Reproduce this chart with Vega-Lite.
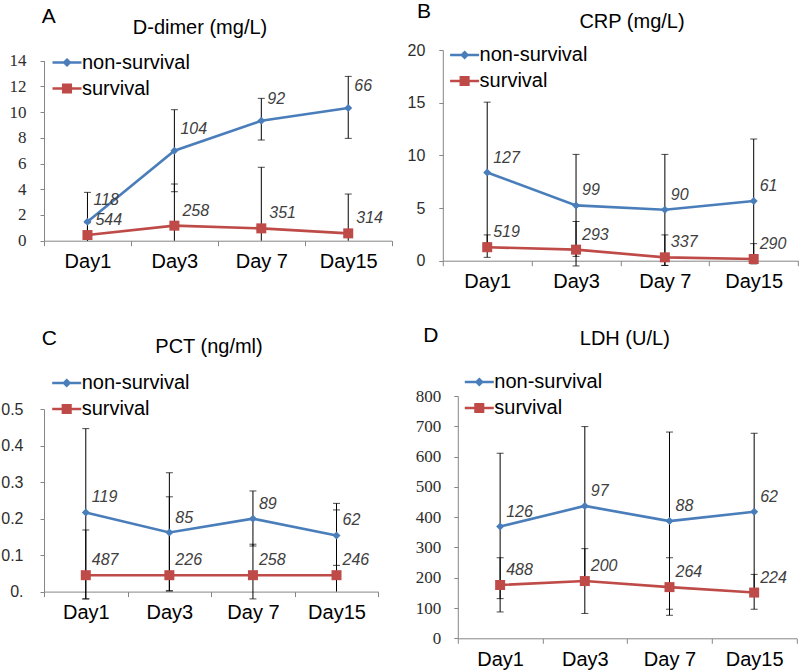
{
  "$schema": "https://vega.github.io/schema/vega-lite/v6.json",
  "background": "white",
  "padding": 0,
  "autosize": {"type": "pad"},
  "columns": 2,
  "bounds": "flush",
  "spacing": {"row": 135, "column": 50.8},
  "resolve": {"scale": {"color": "independent"}, "legend": {"color": "independent"}},
  "datasets": {
    "dimer": [
      {"group": "non-survival", "day": "Day1", "value": 1.48, "lo": 0, "hi": 3.76, "n": 118},
      {"group": "non-survival", "day": "Day3", "value": 7.0, "lo": 3.81, "hi": 10.19, "n": 104},
      {"group": "non-survival", "day": "Day 7", "value": 9.33, "lo": 7.83, "hi": 11.07, "n": 92},
      {"group": "non-survival", "day": "Day15", "value": 10.32, "lo": 7.96, "hi": 12.78, "n": 66},
      {"group": "survival", "day": "Day1", "value": 0.44, "lo": 0, "hi": 1.4, "n": 544},
      {"group": "survival", "day": "Day3", "value": 1.17, "lo": 0, "hi": 4.41, "n": 258},
      {"group": "survival", "day": "Day 7", "value": 0.96, "lo": 0, "hi": 5.71, "n": 351},
      {"group": "survival", "day": "Day15", "value": 0.57, "lo": 0, "hi": 3.63, "n": 314}
    ],
    "crp": [
      {"group": "non-survival", "day": "Day1", "value": 8.37, "lo": 1.69, "hi": 15.05, "n": 127},
      {"group": "non-survival", "day": "Day3", "value": 5.25, "lo": 0.41, "hi": 10.09, "n": 99},
      {"group": "non-survival", "day": "Day 7", "value": 4.84, "lo": -0.45, "hi": 10.09, "n": 90},
      {"group": "non-survival", "day": "Day15", "value": 5.67, "lo": -0.21, "hi": 11.55, "n": 61},
      {"group": "survival", "day": "Day1", "value": 1.28, "lo": 0.32, "hi": 2.45, "n": 519},
      {"group": "survival", "day": "Day3", "value": 1.05, "lo": -0.5, "hi": 3.72, "n": 293},
      {"group": "survival", "day": "Day 7", "value": 0.32, "lo": -0.45, "hi": 2.45, "n": 337},
      {"group": "survival", "day": "Day15", "value": 0.16, "lo": -0.3, "hi": 1.62, "n": 290}
    ],
    "pct": [
      {"group": "non-survival", "day": "Day1", "value": 0.217, "lo": -0.02, "hi": 0.447, "n": 119},
      {"group": "non-survival", "day": "Day3", "value": 0.162, "lo": 0.002, "hi": 0.326, "n": 85},
      {"group": "non-survival", "day": "Day 7", "value": 0.2, "lo": 0.125, "hi": 0.276, "n": 89},
      {"group": "non-survival", "day": "Day15", "value": 0.154, "lo": 0.072, "hi": 0.242, "n": 62},
      {"group": "survival", "day": "Day1", "value": 0.045, "lo": -0.02, "hi": 0.169, "n": 487},
      {"group": "survival", "day": "Day3", "value": 0.045, "lo": 0.002, "hi": 0.26, "n": 226},
      {"group": "survival", "day": "Day 7", "value": 0.045, "lo": -0.02, "hi": 0.13, "n": 258},
      {"group": "survival", "day": "Day15", "value": 0.045, "lo": 0, "hi": 0.224, "n": 246}
    ],
    "ldh": [
      {"group": "non-survival", "day": "Day1", "value": 369, "lo": 131, "hi": 611, "n": 126},
      {"group": "non-survival", "day": "Day3", "value": 437, "lo": 175, "hi": 699, "n": 97},
      {"group": "non-survival", "day": "Day 7", "value": 387, "lo": 96, "hi": 681, "n": 88},
      {"group": "non-survival", "day": "Day15", "value": 418, "lo": 159, "hi": 677, "n": 62},
      {"group": "survival", "day": "Day1", "value": 176, "lo": 87, "hi": 266, "n": 488},
      {"group": "survival", "day": "Day3", "value": 189, "lo": 82, "hi": 296, "n": 200},
      {"group": "survival", "day": "Day 7", "value": 169, "lo": 76, "hi": 266, "n": 264},
      {"group": "survival", "day": "Day15", "value": 151, "lo": 96, "hi": 211, "n": 224}
    ]
  },
  "concat": [
    {
      "width": 347.7, "height": 190.7,
      "data": {"name": "dimer"},
      "encoding": {
        "x": {"field": "day", "type": "ordinal", "sort": ["Day1", "Day3", "Day 7", "Day15"],
          "scale": {"type": "band", "paddingInner": 0, "paddingOuter": 0},
          "axis": {"title": "A", "titleX": -2.8, "titleY": -218.4, "tickBand": "extent"}}
      },
      "layer": [
        {"mark": {"type": "rule", "color": "#000", "strokeWidth": 1},
          "encoding": {"y": {"field": "lo", "type": "quantitative", "scale": {"domain": [0, 14], "range": [190.7, 10.7], "nice": false},
            "axis": {"title": "D-dimer (mg/L)", "titleX": 155.5, "titleY": -16.5, "values": [0, 2, 4, 6, 8, 10, 12, 14], "labelFont": "Liberation Serif", "labelFontSize": 17, "labelPadding": 14}}, "y2": {"field": "hi"}}},
        {"mark": {"type": "tick", "orient": "horizontal", "size": 7, "thickness": 1, "color": "#000"},
          "encoding": {"y": {"field": "hi", "type": "quantitative", "scale": {"domain": [0, 14], "range": [190.7, 10.7], "nice": false},
            "axis": {"title": "D-dimer (mg/L)", "titleX": 155.5, "titleY": -16.5, "values": [0, 2, 4, 6, 8, 10, 12, 14], "labelFont": "Liberation Serif", "labelFontSize": 17, "labelPadding": 14}}}},
        {"transform": [{"filter": "datum.lo != 0"}], "mark": {"type": "tick", "orient": "horizontal", "size": 7, "thickness": 1, "color": "#000"},
          "encoding": {"y": {"field": "lo", "type": "quantitative", "scale": {"domain": [0, 14], "range": [190.7, 10.7], "nice": false},
            "axis": {"title": "D-dimer (mg/L)", "titleX": 155.5, "titleY": -16.5, "values": [0, 2, 4, 6, 8, 10, 12, 14], "labelFont": "Liberation Serif", "labelFontSize": 17, "labelPadding": 14}}}},
        {"mark": {"type": "line", "strokeWidth": 2.6},
          "encoding": {
            "y": {"field": "value", "type": "quantitative", "scale": {"domain": [0, 14], "range": [190.7, 10.7], "nice": false},
              "axis": {"title": "D-dimer (mg/L)", "titleX": 155.5, "titleY": -16.5, "values": [0, 2, 4, 6, 8, 10, 12, 14], "labelFont": "Liberation Serif", "labelFontSize": 17, "labelPadding": 14}},
            "color": {"field": "group", "type": "nominal", "scale": {"domain": ["non-survival", "survival"], "range": ["#4a7ebb", "#be4b48"]},
              "legend": {"title": null, "orient": "none", "legendX": 11.5, "legendY": 1,
                "encode": {"symbols": {"update": {
                  "shape": {"signal": "datum.value === 'non-survival' ? 'M-1.45,0H1.45M0,-0.28L0.28,0L0,0.28L-0.28,0Z' : 'M-1.45,0H1.45M-0.38,-0.38H0.38V0.38H-0.38Z'"},
                  "fill": {"signal": "datum.value === 'non-survival' ? '#4a7ebb' : '#be4b48'"},
                  "stroke": {"signal": "datum.value === 'non-survival' ? '#4a7ebb' : '#be4b48'"},
                  "strokeWidth": {"value": 2.5}, "opacity": {"value": 1}}}}}}
          }},
        {"transform": [{"filter": "datum.group === 'non-survival'"}], "mark": {"type": "point", "filled": true, "opacity": 1, "shape": "diamond", "size": 64, "color": "#4a7ebb"},
          "encoding": {"y": {"field": "value", "type": "quantitative", "scale": {"domain": [0, 14], "range": [190.7, 10.7], "nice": false},
            "axis": {"title": "D-dimer (mg/L)", "titleX": 155.5, "titleY": -16.5, "values": [0, 2, 4, 6, 8, 10, 12, 14], "labelFont": "Liberation Serif", "labelFontSize": 17, "labelPadding": 14}}}},
        {"transform": [{"filter": "datum.group === 'survival'"}], "mark": {"type": "point", "filled": true, "opacity": 1, "shape": "square", "size": 100, "color": "#be4b48"},
          "encoding": {"y": {"field": "value", "type": "quantitative", "scale": {"domain": [0, 14], "range": [190.7, 10.7], "nice": false},
            "axis": {"title": "D-dimer (mg/L)", "titleX": 155.5, "titleY": -16.5, "values": [0, 2, 4, 6, 8, 10, 12, 14], "labelFont": "Liberation Serif", "labelFontSize": 17, "labelPadding": 14}}}},
        {"transform": [{"filter": "datum.group === 'non-survival'"}], "mark": {"type": "text", "align": "left", "baseline": "middle", "dx": 6, "dy": -22, "fontStyle": "italic", "fontSize": 16, "color": "#404040"},
          "encoding": {"y": {"field": "value", "type": "quantitative", "scale": {"domain": [0, 14], "range": [190.7, 10.7], "nice": false},
            "axis": {"title": "D-dimer (mg/L)", "titleX": 155.5, "titleY": -16.5, "values": [0, 2, 4, 6, 8, 10, 12, 14], "labelFont": "Liberation Serif", "labelFontSize": 17, "labelPadding": 14}}, "text": {"field": "n", "type": "nominal"}}},
        {"transform": [{"filter": "datum.group === 'survival'"}], "mark": {"type": "text", "align": "left", "baseline": "middle", "dx": 8, "dy": -15, "fontStyle": "italic", "fontSize": 16, "color": "#404040"},
          "encoding": {"y": {"field": "value", "type": "quantitative", "scale": {"domain": [0, 14], "range": [190.7, 10.7], "nice": false},
            "axis": {"title": "D-dimer (mg/L)", "titleX": 155.5, "titleY": -16.5, "values": [0, 2, 4, 6, 8, 10, 12, 14], "labelFont": "Liberation Serif", "labelFontSize": 17, "labelPadding": 14}}, "text": {"field": "n", "type": "nominal"}}}
      ]
    },
    {
      "width": 355.3, "height": 210.7,
      "data": {"name": "crp"},
      "encoding": {
        "x": {"field": "day", "type": "ordinal", "sort": ["Day1", "Day3", "Day 7", "Day15"],
          "scale": {"type": "band", "paddingInner": 0, "paddingOuter": 0},
          "axis": {"title": "B", "titleX": -26.3, "titleY": -243.4, "tickBand": "extent"}}
      },
      "layer": [
        {"mark": {"type": "rule", "color": "#000", "strokeWidth": 1},
          "encoding": {"y": {"field": "lo", "type": "quantitative", "scale": {"domain": [0, 20], "nice": false},
            "axis": {"title": "CRP (mg/L)", "titleX": 188.7, "titleY": -22.7, "values": [0, 5, 10, 15, 20], "labelFontSize": 16, "labelPadding": 14}}, "y2": {"field": "hi"}}},
        {"mark": {"type": "tick", "orient": "horizontal", "size": 7, "thickness": 1, "color": "#000"},
          "encoding": {"y": {"field": "hi", "type": "quantitative", "scale": {"domain": [0, 20], "nice": false},
            "axis": {"title": "CRP (mg/L)", "titleX": 188.7, "titleY": -22.7, "values": [0, 5, 10, 15, 20], "labelFontSize": 16, "labelPadding": 14}}}},
        {"transform": [{"filter": "datum.lo != 0"}], "mark": {"type": "tick", "orient": "horizontal", "size": 7, "thickness": 1, "color": "#000"},
          "encoding": {"y": {"field": "lo", "type": "quantitative", "scale": {"domain": [0, 20], "nice": false},
            "axis": {"title": "CRP (mg/L)", "titleX": 188.7, "titleY": -22.7, "values": [0, 5, 10, 15, 20], "labelFontSize": 16, "labelPadding": 14}}}},
        {"mark": {"type": "line", "strokeWidth": 2.6},
          "encoding": {
            "y": {"field": "value", "type": "quantitative", "scale": {"domain": [0, 20], "nice": false},
              "axis": {"title": "CRP (mg/L)", "titleX": 188.7, "titleY": -22.7, "values": [0, 5, 10, 15, 20], "labelFontSize": 16, "labelPadding": 14}},
            "color": {"field": "group", "type": "nominal", "scale": {"domain": ["non-survival", "survival"], "range": ["#4a7ebb", "#be4b48"]},
              "legend": {"title": null, "orient": "none", "legendX": 10.3, "legendY": -6.5,
                "encode": {"symbols": {"update": {
                  "shape": {"signal": "datum.value === 'non-survival' ? 'M-1.45,0H1.45M0,-0.28L0.28,0L0,0.28L-0.28,0Z' : 'M-1.45,0H1.45M-0.38,-0.38H0.38V0.38H-0.38Z'"},
                  "fill": {"signal": "datum.value === 'non-survival' ? '#4a7ebb' : '#be4b48'"},
                  "stroke": {"signal": "datum.value === 'non-survival' ? '#4a7ebb' : '#be4b48'"},
                  "strokeWidth": {"value": 2.5}, "opacity": {"value": 1}}}}}}
          }},
        {"transform": [{"filter": "datum.group === 'non-survival'"}], "mark": {"type": "point", "filled": true, "opacity": 1, "shape": "diamond", "size": 64, "color": "#4a7ebb"},
          "encoding": {"y": {"field": "value", "type": "quantitative", "scale": {"domain": [0, 20], "nice": false},
            "axis": {"title": "CRP (mg/L)", "titleX": 188.7, "titleY": -22.7, "values": [0, 5, 10, 15, 20], "labelFontSize": 16, "labelPadding": 14}}}},
        {"transform": [{"filter": "datum.group === 'survival'"}], "mark": {"type": "point", "filled": true, "opacity": 1, "shape": "square", "size": 100, "color": "#be4b48"},
          "encoding": {"y": {"field": "value", "type": "quantitative", "scale": {"domain": [0, 20], "nice": false},
            "axis": {"title": "CRP (mg/L)", "titleX": 188.7, "titleY": -22.7, "values": [0, 5, 10, 15, 20], "labelFontSize": 16, "labelPadding": 14}}}},
        {"mark": {"type": "text", "align": "left", "baseline": "middle", "dx": 6, "dy": -15, "fontStyle": "italic", "fontSize": 16, "color": "#404040"},
          "encoding": {"y": {"field": "value", "type": "quantitative", "scale": {"domain": [0, 20], "nice": false},
            "axis": {"title": "CRP (mg/L)", "titleX": 188.7, "titleY": -22.7, "values": [0, 5, 10, 15, 20], "labelFontSize": 16, "labelPadding": 14}}, "text": {"field": "n", "type": "nominal"}}}
      ]
    },
    {
      "width": 334.3, "height": 195.6,
      "data": {"name": "pct"},
      "encoding": {
        "x": {"field": "day", "type": "ordinal", "sort": ["Day1", "Day3", "Day 7", "Day15"],
          "scale": {"type": "band", "paddingInner": 0, "paddingOuter": 0},
          "axis": {"title": "C", "titleX": -2.8, "titleY": -247.3, "tickBand": "extent"}}
      },
      "layer": [
        {"mark": {"type": "rule", "color": "#000", "strokeWidth": 1},
          "encoding": {"y": {"field": "lo", "type": "quantitative", "scale": {"domain": [0, 0.5], "range": [195.6, 13.3], "nice": false},
            "axis": {"title": "PCT (ng/ml)", "titleX": 164.5, "titleY": -43.4, "values": [0, 0.1, 0.2, 0.3, 0.4, 0.5], "labelExpr": "datum.value === 0 ? '0.' : format(datum.value, '.1f')", "labelFontSize": 16, "labelPadding": 17}}, "y2": {"field": "hi"}}},
        {"mark": {"type": "tick", "orient": "horizontal", "size": 7, "thickness": 1, "color": "#000"},
          "encoding": {"y": {"field": "hi", "type": "quantitative", "scale": {"domain": [0, 0.5], "range": [195.6, 13.3], "nice": false},
            "axis": {"title": "PCT (ng/ml)", "titleX": 164.5, "titleY": -43.4, "values": [0, 0.1, 0.2, 0.3, 0.4, 0.5], "labelExpr": "datum.value === 0 ? '0.' : format(datum.value, '.1f')", "labelFontSize": 16, "labelPadding": 17}}}},
        {"transform": [{"filter": "datum.lo != 0"}], "mark": {"type": "tick", "orient": "horizontal", "size": 7, "thickness": 1, "color": "#000"},
          "encoding": {"y": {"field": "lo", "type": "quantitative", "scale": {"domain": [0, 0.5], "range": [195.6, 13.3], "nice": false},
            "axis": {"title": "PCT (ng/ml)", "titleX": 164.5, "titleY": -43.4, "values": [0, 0.1, 0.2, 0.3, 0.4, 0.5], "labelExpr": "datum.value === 0 ? '0.' : format(datum.value, '.1f')", "labelFontSize": 16, "labelPadding": 17}}}},
        {"mark": {"type": "line", "strokeWidth": 2.6},
          "encoding": {
            "y": {"field": "value", "type": "quantitative", "scale": {"domain": [0, 0.5], "range": [195.6, 13.3], "nice": false},
              "axis": {"title": "PCT (ng/ml)", "titleX": 164.5, "titleY": -43.4, "values": [0, 0.1, 0.2, 0.3, 0.4, 0.5], "labelExpr": "datum.value === 0 ? '0.' : format(datum.value, '.1f')", "labelFontSize": 16, "labelPadding": 17}},
            "color": {"field": "group", "type": "nominal", "scale": {"domain": ["non-survival", "survival"], "range": ["#4a7ebb", "#be4b48"]},
              "legend": {"title": null, "orient": "none", "legendX": 11.2, "legendY": -24.5,
                "encode": {"symbols": {"update": {
                  "shape": {"signal": "datum.value === 'non-survival' ? 'M-1.45,0H1.45M0,-0.28L0.28,0L0,0.28L-0.28,0Z' : 'M-1.45,0H1.45M-0.38,-0.38H0.38V0.38H-0.38Z'"},
                  "fill": {"signal": "datum.value === 'non-survival' ? '#4a7ebb' : '#be4b48'"},
                  "stroke": {"signal": "datum.value === 'non-survival' ? '#4a7ebb' : '#be4b48'"},
                  "strokeWidth": {"value": 2.5}, "opacity": {"value": 1}}}}}}
          }},
        {"transform": [{"filter": "datum.group === 'non-survival'"}], "mark": {"type": "point", "filled": true, "opacity": 1, "shape": "diamond", "size": 64, "color": "#4a7ebb"},
          "encoding": {"y": {"field": "value", "type": "quantitative", "scale": {"domain": [0, 0.5], "range": [195.6, 13.3], "nice": false},
            "axis": {"title": "PCT (ng/ml)", "titleX": 164.5, "titleY": -43.4, "values": [0, 0.1, 0.2, 0.3, 0.4, 0.5], "labelExpr": "datum.value === 0 ? '0.' : format(datum.value, '.1f')", "labelFontSize": 16, "labelPadding": 17}}}},
        {"transform": [{"filter": "datum.group === 'survival'"}], "mark": {"type": "point", "filled": true, "opacity": 1, "shape": "square", "size": 100, "color": "#be4b48"},
          "encoding": {"y": {"field": "value", "type": "quantitative", "scale": {"domain": [0, 0.5], "range": [195.6, 13.3], "nice": false},
            "axis": {"title": "PCT (ng/ml)", "titleX": 164.5, "titleY": -43.4, "values": [0, 0.1, 0.2, 0.3, 0.4, 0.5], "labelExpr": "datum.value === 0 ? '0.' : format(datum.value, '.1f')", "labelFontSize": 16, "labelPadding": 17}}}},
        {"mark": {"type": "text", "align": "left", "baseline": "middle", "dx": 6, "dy": -15, "fontStyle": "italic", "fontSize": 16, "color": "#404040"},
          "encoding": {"y": {"field": "value", "type": "quantitative", "scale": {"domain": [0, 0.5], "range": [195.6, 13.3], "nice": false},
            "axis": {"title": "PCT (ng/ml)", "titleX": 164.5, "titleY": -43.4, "values": [0, 0.1, 0.2, 0.3, 0.4, 0.5], "labelExpr": "datum.value === 0 ? '0.' : format(datum.value, '.1f')", "labelFontSize": 16, "labelPadding": 17}}, "text": {"field": "n", "type": "nominal"}}}
      ]
    },
    {
      "width": 353.7, "height": 242.3,
      "data": {"name": "ldh"},
      "encoding": {
        "x": {"field": "day", "type": "ordinal", "sort": ["Day1", "Day3", "Day 7", "Day15"],
          "scale": {"type": "band", "paddingInner": 0, "paddingOuter": 0, "range": [15, 353.7]},
          "axis": {"title": "D", "titleX": -20, "titleY": -297.3, "tickBand": "extent"}}
      },
      "layer": [
        {"mark": {"type": "rule", "color": "#000", "strokeWidth": 1},
          "encoding": {"y": {"field": "lo", "type": "quantitative", "scale": {"domain": [0, 800], "nice": false},
            "axis": {"title": "LDH (U/L)", "titleX": 166.5, "titleY": -51.7, "values": [0, 100, 200, 300, 400, 500, 600, 700, 800], "offset": -15, "labelFont": "Liberation Serif", "labelFontSize": 17, "labelPadding": 13}}, "y2": {"field": "hi"}}},
        {"mark": {"type": "tick", "orient": "horizontal", "size": 7, "thickness": 1, "color": "#000"},
          "encoding": {"y": {"field": "hi", "type": "quantitative", "scale": {"domain": [0, 800], "nice": false},
            "axis": {"title": "LDH (U/L)", "titleX": 166.5, "titleY": -51.7, "values": [0, 100, 200, 300, 400, 500, 600, 700, 800], "offset": -15, "labelFont": "Liberation Serif", "labelFontSize": 17, "labelPadding": 13}}}},
        {"mark": {"type": "tick", "orient": "horizontal", "size": 7, "thickness": 1, "color": "#000"},
          "encoding": {"y": {"field": "lo", "type": "quantitative", "scale": {"domain": [0, 800], "nice": false},
            "axis": {"title": "LDH (U/L)", "titleX": 166.5, "titleY": -51.7, "values": [0, 100, 200, 300, 400, 500, 600, 700, 800], "offset": -15, "labelFont": "Liberation Serif", "labelFontSize": 17, "labelPadding": 13}}}},
        {"mark": {"type": "line", "strokeWidth": 2.6},
          "encoding": {
            "y": {"field": "value", "type": "quantitative", "scale": {"domain": [0, 800], "nice": false},
              "axis": {"title": "LDH (U/L)", "titleX": 166.5, "titleY": -51.7, "values": [0, 100, 200, 300, 400, 500, 600, 700, 800], "offset": -15, "labelFont": "Liberation Serif", "labelFontSize": 17, "labelPadding": 13}},
            "color": {"field": "group", "type": "nominal", "scale": {"domain": ["non-survival", "survival"], "range": ["#4a7ebb", "#be4b48"]},
              "legend": {"title": null, "orient": "none", "legendX": 25, "legendY": -25.5,
                "encode": {"symbols": {"update": {
                  "shape": {"signal": "datum.value === 'non-survival' ? 'M-1.45,0H1.45M0,-0.28L0.28,0L0,0.28L-0.28,0Z' : 'M-1.45,0H1.45M-0.38,-0.38H0.38V0.38H-0.38Z'"},
                  "fill": {"signal": "datum.value === 'non-survival' ? '#4a7ebb' : '#be4b48'"},
                  "stroke": {"signal": "datum.value === 'non-survival' ? '#4a7ebb' : '#be4b48'"},
                  "strokeWidth": {"value": 2.5}, "opacity": {"value": 1}}}}}}
          }},
        {"transform": [{"filter": "datum.group === 'non-survival'"}], "mark": {"type": "point", "filled": true, "opacity": 1, "shape": "diamond", "size": 64, "color": "#4a7ebb"},
          "encoding": {"y": {"field": "value", "type": "quantitative", "scale": {"domain": [0, 800], "nice": false},
            "axis": {"title": "LDH (U/L)", "titleX": 166.5, "titleY": -51.7, "values": [0, 100, 200, 300, 400, 500, 600, 700, 800], "offset": -15, "labelFont": "Liberation Serif", "labelFontSize": 17, "labelPadding": 13}}}},
        {"transform": [{"filter": "datum.group === 'survival'"}], "mark": {"type": "point", "filled": true, "opacity": 1, "shape": "square", "size": 100, "color": "#be4b48"},
          "encoding": {"y": {"field": "value", "type": "quantitative", "scale": {"domain": [0, 800], "nice": false},
            "axis": {"title": "LDH (U/L)", "titleX": 166.5, "titleY": -51.7, "values": [0, 100, 200, 300, 400, 500, 600, 700, 800], "offset": -15, "labelFont": "Liberation Serif", "labelFontSize": 17, "labelPadding": 13}}}},
        {"mark": {"type": "text", "align": "left", "baseline": "middle", "dx": 6, "dy": -15, "fontStyle": "italic", "fontSize": 16, "color": "#404040"},
          "encoding": {"y": {"field": "value", "type": "quantitative", "scale": {"domain": [0, 800], "nice": false},
            "axis": {"title": "LDH (U/L)", "titleX": 166.5, "titleY": -51.7, "values": [0, 100, 200, 300, 400, 500, 600, 700, 800], "offset": -15, "labelFont": "Liberation Serif", "labelFontSize": 17, "labelPadding": 13}}, "text": {"field": "n", "type": "nominal"}}}
      ]
    }
  ],
  "config": {
    "view": {"stroke": null},
    "font": "Liberation Sans",
    "axis": {"domainColor": "#868686", "tickColor": "#868686", "labelColor": "#2d2d2d", "grid": false, "labelFlush": false, "labelOverlap": false},
    "axisX": {"titleAlign": "left", "titleBaseline": "alphabetic", "titleAngle": 0, "titleFontSize": 21, "titleFontWeight": "normal", "titleColor": "#000", "labelAngle": 0, "labelFontSize": 20, "labelColor": "#000", "labelPadding": 6, "tickSize": 5},
    "axisY": {"titleAlign": "center", "titleBaseline": "alphabetic", "titleAngle": 0, "titleFontSize": 20, "titleFontWeight": "normal", "titleColor": "#000", "tickSize": 4},
    "legend": {"labelFont": "Liberation Sans", "labelFontSize": 20, "labelColor": "#000", "symbolSize": 400, "symbolStrokeWidth": 2.5, "rowPadding": 4, "labelOffset": 3.5, "padding": 0}
  }
}
